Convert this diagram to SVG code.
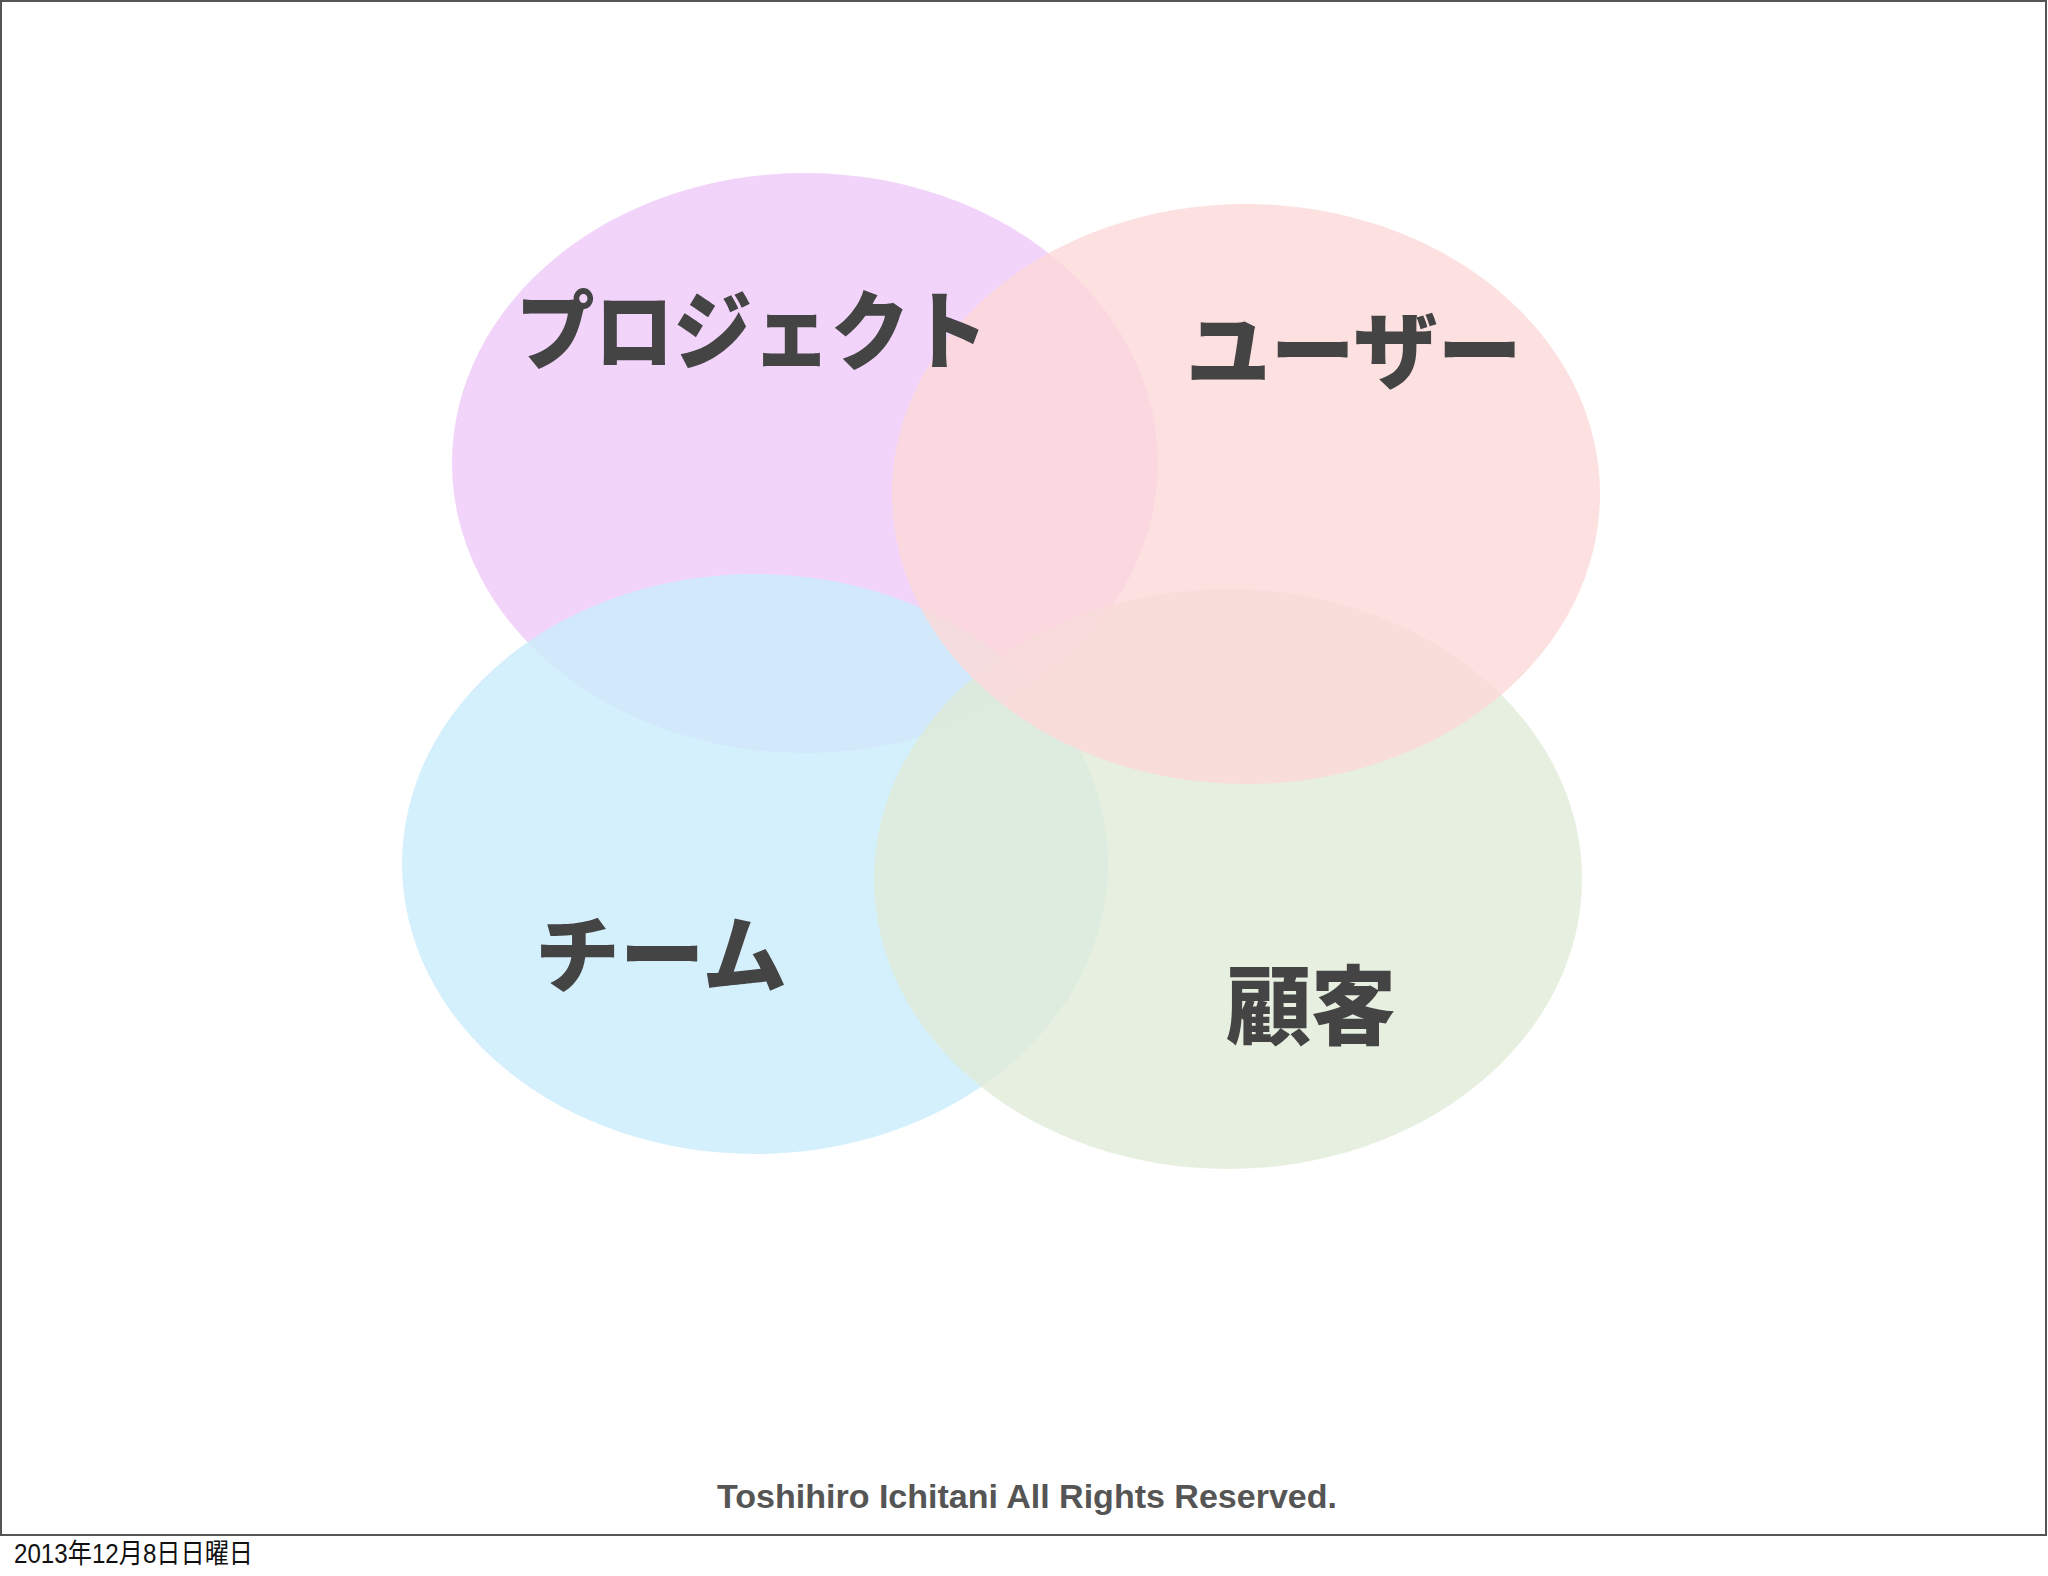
<svg xmlns="http://www.w3.org/2000/svg" width="2048" height="1576" viewBox="0 0 2048 1576">
<style>
.lbl{font-family:"Noto Sans CJK JP","Noto Sans CJK SC",sans-serif;font-weight:900;fill:#444444;}
.ell{fill-opacity:0.8;}
.foot{font-family:"Liberation Sans",Arial,sans-serif;font-weight:700;fill:#555555;}
.date{font-family:"Liberation Sans","Noto Sans CJK JP",sans-serif;fill:#111111;}
</style>
<rect x="0" y="0" width="2048" height="1576" fill="#ffffff"/>
<rect x="1" y="1" width="2045" height="1534" fill="#ffffff" stroke="#555555" stroke-width="2"/>
<g id="project"><ellipse class="ell" cx="805" cy="463" rx="353" ry="290" fill="#efc9fa"/></g>
<g id="team"><ellipse class="ell" cx="755" cy="864" rx="353" ry="290" fill="#c9ecfb"/></g>
<g id="customer"><ellipse class="ell" cx="1228" cy="879" rx="354" ry="290" fill="#e0ebd8"/></g>
<g id="user"><ellipse class="ell" cx="1246" cy="494" rx="354" ry="290" fill="#fcd8d8"/></g>
<g id="labels">
<text class="lbl" x="516" y="363" font-size="86" textLength="472" lengthAdjust="spacingAndGlyphs">プロジェクト</text>
<text class="lbl" x="1186" y="382" font-size="84" textLength="336" lengthAdjust="spacingAndGlyphs">ユーザー</text>
<text class="lbl" x="535" y="986" font-size="84" textLength="252" lengthAdjust="spacingAndGlyphs">チーム</text>
<text class="lbl" x="1226" y="1038" font-size="86" textLength="170" lengthAdjust="spacingAndGlyphs">顧客</text>
</g>
<text class="foot" x="717" y="1508" font-size="34" textLength="620" lengthAdjust="spacingAndGlyphs">Toshihiro Ichitani All Rights Reserved.</text>
<text class="date" x="14" y="1563" font-size="27" textLength="239" lengthAdjust="spacingAndGlyphs">2013年12月8日日曜日</text>
<g id="connectors"/>
</svg>
